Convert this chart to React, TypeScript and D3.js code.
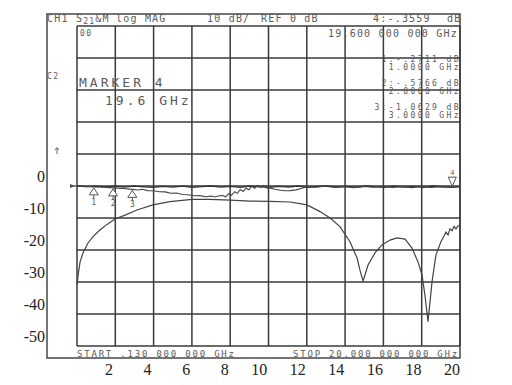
import React from "react";
import * as d3 from "d3";

// sweep and scale of the analyzer screen
const startGHz = 0.13;
const stopGHz = 20;
const refDb = 0;
const dbPerDiv = 10;
const xTickLabels = [2, 4, 6, 8, 10, 12, 14, 16, 18, 20];
const yTickLabels = [0, -10, -20, -30, -40, -50];

// memory trace (thru), [GHz, dB]
const memoryTrace: [number, number][] = [
  [0.13, -0.05], [0.6, -0.2], [1.1, -0.05], [1.6, -0.3], [2.1, -0.1], [2.6, -0.35],
  [3.1, -0.05], [3.6, -0.3], [4.1, -0.4], [4.6, -0.1], [5.1, -0.35], [5.6, -0.05],
  [6.1, -0.4], [6.6, -0.2], [7.1, 0.0], [7.6, -0.35], [8.1, -0.1], [8.6, -0.4],
  [9.1, 0.0], [9.6, -0.3], [10.1, -0.45], [10.6, -0.1], [11.1, -0.35], [11.6, 0.0],
  [12.1, -0.4], [12.6, -0.15], [13.1, 0.05], [13.6, -0.35], [14.1, -0.1], [14.6, -0.45],
  [15.1, 0.0], [15.6, -0.3], [16.1, -0.4], [16.6, -0.05], [17.1, -0.35], [17.6, -0.1],
  [18.1, -0.45], [18.6, 0.0], [19.1, -0.3], [19.6, -0.45], [20, -0.2]
];

// data trace, [GHz, dB]
const dataTrace: [number, number][] = [
  [0.13, -0.05], [0.5, -0.12], [1.0, -0.27], [1.5, -0.4], [2.0, -0.58], [2.5, -0.8],
  [3.0, -1.06], [3.3, -1.25], [3.5, -1.0], [3.8, -1.45], [4.1, -1.5], [4.4, -1.8],
  [4.7, -1.85], [5.0, -2.25], [5.3, -2.2], [5.6, -2.65], [5.9, -2.75], [6.2, -3.05],
  [6.5, -3.0], [6.8, -3.35], [7.1, -3.15], [7.3, -3.45], [7.5, -3.05], [7.7, -2.95],
  [7.85, -3.35], [8.0, -2.4], [8.15, -2.9], [8.3, -1.8], [8.45, -2.3], [8.6, -1.1],
  [8.75, -1.7], [8.9, -0.7], [9.05, -1.2], [9.2, -0.1], [9.35, -0.7], [9.5, 0.2],
  [9.65, -0.4], [9.8, 0.2], [9.95, -0.6], [10.1, -0.6], [10.4, -1.0], [10.7, -1.35],
  [10.9, -1.5], [11.2, -1.45], [11.5, -1.2], [11.8, -0.7], [12.05, -0.2], [12.5, -0.4],
  [13.0, -0.1], [13.5, -0.45], [14.0, -0.2], [14.5, -0.5], [15.0, -0.15], [15.5, -0.4],
  [16.0, -0.1], [16.5, -0.45], [17.0, -0.25], [17.5, -0.5], [18.0, -0.15], [18.5, -0.45],
  [19.0, -0.2], [19.6, -0.36], [20, -0.25]
];

// filter response trace, [GHz, dB]
const filterTrace: [number, number][] = [
  [0.13, -30.9], [0.21, -26.9], [0.29, -23.7], [0.44, -20.9], [0.7, -17.8], [0.96, -15.8],
  [1.32, -13.75], [1.69, -12.0], [2.1, -10.3], [2.62, -9.1], [3.24, -7.5], [4.07, -5.9],
  [4.95, -4.9], [6.1, -4.2], [7.03, -4.2], [8.07, -4.4], [9.1, -4.7], [10.14, -4.8],
  [11.18, -5.0], [11.7, -5.5], [12.06, -5.9], [12.74, -8.0], [13.26, -10.0], [13.77, -12.7],
  [14.29, -17.4], [14.66, -22.5], [14.81, -26.3], [14.97, -29.7], [15.23, -24.7],
  [15.59, -20.9], [15.95, -18.4], [16.37, -16.9], [16.73, -16.2], [17.15, -16.6],
  [17.51, -19.4], [17.82, -23.7], [18.03, -27.8], [18.18, -34.1], [18.34, -42.4],
  [18.55, -29.9], [18.75, -21.6], [19.01, -17.4], [19.17, -15.6], [19.27, -14.4],
  [19.38, -15.3], [19.48, -13.4], [19.59, -14.0], [19.69, -12.6], [19.79, -13.4],
  [19.9, -12.4], [20, -12.3]
];

// markers on the data trace
const markerIds = [1, 2, 3];
const markerGHz = [1.0, 2.0, 3.0];
const markerDb = [-0.2711, -0.5766, -1.0629];
const activeMarkerGHz = 19.6;
const activeMarkerDb = -0.3559;
const markerReadout = [
  ["1:-.2711  dB", "1.0000 GHz"],
  ["2:-.5766  dB", "2.0000 GHz"],
  ["3:-1.0629 dB", "3.0000 GHz"]
];

const MONO = "'DejaVu Sans Mono', 'Liberation Mono', monospace";
const SERIF = "'Liberation Serif', 'DejaVu Serif', serif";
const INK = "#3a3a3a";
const TXT = "#5a5a5a";

export default function App() {
  const x = d3.scaleLinear().domain([startGHz, stopGHz]).range([77, 460]);
  const y = d3
    .scaleLinear()
    .domain([refDb - 5 * dbPerDiv, refDb + 5 * dbPerDiv])
    .range([346, 26]);

  const line = d3
    .line<[number, number]>()
    .x((d) => x(d[0]))
    .y((d) => y(d[1]));

  const vGrid = d3.range(11).map((i) => startGHz + (i * (stopGHz - startGHz)) / 10);
  const hGrid = d3.range(-50, 51, dbPerDiv);

  return (
    <svg
      width={512}
      height={385}
      style={{ position: "absolute", left: 0, top: 0, background: "#fff" }}
    >
      {/* outer frame */}
      <rect x={47} y={14} width={413} height={344} fill="none" stroke={INK} strokeWidth={1.4} />

      {/* grid */}
      {vGrid.map((g, i) => (
        <line key={"v" + i} x1={x(g)} x2={x(g)} y1={26} y2={346} stroke={INK} strokeWidth={1.5} />
      ))}
      {hGrid.map((g, i) => (
        <line key={"h" + i} x1={77} x2={460} y1={y(g)} y2={y(g)} stroke={INK} strokeWidth={1.5} />
      ))}

      {/* traces */}
      <path d={line(memoryTrace) ?? ""} fill="none" stroke="#333" strokeWidth={1.3} />
      <path d={line(dataTrace) ?? ""} fill="none" stroke="#444" strokeWidth={1.1} />
      <path d={line(filterTrace) ?? ""} fill="none" stroke="#444" strokeWidth={1.2} />

      {/* reference level pointer */}
      <path d={`M70,${y(refDb) - 2}L75,${y(refDb)}L70,${y(refDb) + 2}Z`} fill="#555" />
      <line x1={70} x2={78} y1={y(refDb)} y2={y(refDb)} stroke="#444" strokeWidth={1.2} />
      <path d="M57,154V148M55,150L57,147.5L59,150" fill="none" stroke="#666" strokeWidth={1} />

      {/* markers 1-3 */}
      {markerIds.map((id, i) => {
        const mx = x(markerGHz[i]);
        const my = y(markerDb[i]);
        return (
          <g key={"m" + id} stroke="#555" fill="#fff" strokeWidth={1}>
            <path d={`M${mx},${my + 1}L${mx + 4.5},${my + 8}L${mx - 4.5},${my + 8}Z`} />
            <line x1={mx} x2={mx} y1={my + 8} y2={my + 12} />
            <text
              x={mx}
              y={my + 18}
              textAnchor="middle"
              fontFamily={MONO}
              fontSize={8}
              fill={TXT}
              stroke="none"
            >
              {id}
            </text>
          </g>
        );
      })}
      <g stroke="#555" fill="#fff" strokeWidth={1}>
        <path
          d={`M${x(activeMarkerGHz)},${y(activeMarkerDb) - 1}L${x(activeMarkerGHz) + 4},${
            y(activeMarkerDb) - 10
          }L${x(activeMarkerGHz) - 4},${y(activeMarkerDb) - 10}Z`}
        />
        <text
          x={x(activeMarkerGHz)}
          y={y(activeMarkerDb) - 12}
          textAnchor="middle"
          fontFamily={MONO}
          fontSize={7}
          fill={TXT}
          stroke="none"
        >
          4
        </text>
      </g>

      {/* screen annotation */}
      <g fontFamily={MONO} fill={TXT} fontSize={10} letterSpacing={1.2}>
        <text x={47} y={22}>CH1</text>
        <text x={76} y={22}>
          S<tspan fontSize={8} dy={2}>21</tspan>
          <tspan dy={-2}>&amp;M</tspan>
        </text>
        <text x={116} y={22}>log MAG</text>
        <text x={207} y={22}>10 dB/</text>
        <text x={261} y={22}>REF 0 dB</text>
        <text x={373} y={22}>4:-.3559</text>
        <text x={447} y={22}>dB</text>
        <text x={328} y={37}>19.600 000 000 GHz</text>
      </g>
      <g fontFamily={MONO} fill={TXT} fontSize={8} letterSpacing={1.5}>
        <text x={80} y={36}>00</text>
        <text x={47} y={79}>C2</text>
      </g>
      <g fontFamily={MONO} fill={TXT} fontSize={13} letterSpacing={3}>
        <text x={79} y={87}>MARKER 4</text>
        <text x={105} y={105}>19.6 GHz</text>
      </g>
      <g fontFamily={MONO} fill={TXT} fontSize={8} letterSpacing={2.4} textAnchor="end">
        {markerReadout.map((r, i) => (
          <g key={"r" + i}>
            <text x={461} y={62 + i * 24}>{r[0]}</text>
            <text x={461} y={70 + i * 24}>{r[1]}</text>
          </g>
        ))}
      </g>
      <g fontFamily={MONO} fill={TXT} fontSize={9} letterSpacing={1.8}>
        <text x={77} y={357}>START  .130 000 000 GHz</text>
        <text x={293} y={357}>STOP 20.000 000 000 GHz</text>
      </g>

      {/* axis labels */}
      <g fontFamily={SERIF} fontSize={16} fill="#222">
        {yTickLabels.map((v) => (
          <text key={"y" + v} x={45} y={y(v) - 4.5} textAnchor="end">
            {v === 0 ? "0" : "-" + Math.abs(v)}
          </text>
        ))}
        {xTickLabels.map((v) => (
          <text key={"x" + v} x={x(v)} y={375} textAnchor="end">
            {v}
          </text>
        ))}
      </g>
    </svg>
  );
}
